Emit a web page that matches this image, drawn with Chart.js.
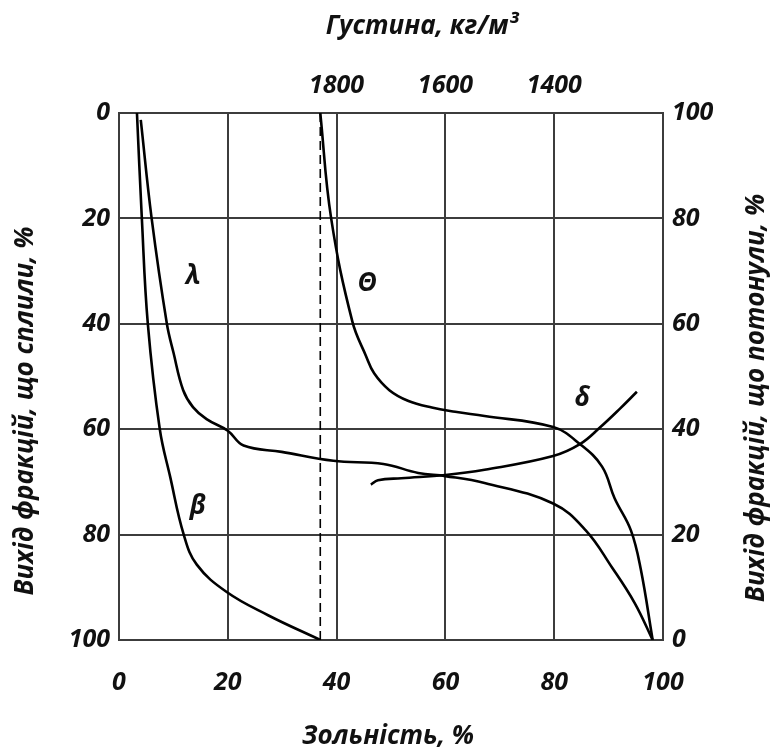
<!DOCTYPE html>
<html>
<head>
<meta charset="utf-8">
<script src="https://cdn.jsdelivr.net/npm/chart.js@4.4.0/dist/chart.umd.min.js"></script>
<style>
  html, body { margin: 0; padding: 0; background: #fff; }
</style>
</head>
<body>
<canvas id="js-chart-washability" width="772" height="749"></canvas>
<script>
// Tick labels
const ashTicks = [0, 20, 40, 60, 80, 100];
const floatTicks = [0, 20, 40, 60, 80, 100];
const sinkTicks = [0, 20, 40, 60, 80, 100];
const densityTicks = [1800, 1600, 1400];

// λ - elementary curve
const lambdaAsh = [4.0, 6.0, 8.8, 10.0, 11.8, 13.6, 16.1, 20.0, 22.9, 29.9, 39.4, 48.6, 55.0, 60.0, 67.2, 79.8, 85.8, 90.6, 94.8, 98.1];
const lambdaYield = [1.3, 20, 40, 45.4, 52.6, 55.8, 58.1, 60.3, 63.1, 64.3, 66.0, 66.6, 68.3, 68.9, 70.2, 74.1, 79.2, 86.2, 93.0, 100];

// β - floats curve
const betaAsh = [3.3, 4.2, 5.3, 7.5, 9.4, 11.9, 14.3, 19.8, 27.4, 37.0];
const betaYield = [0, 20, 40, 60, 69.0, 80, 85.7, 90.9, 95.3, 100];

// Θ - sinks curve
const thetaAsh = [37.0, 39.0, 42.9, 45.4, 46.9, 49.7, 53.1, 57.5, 61.8, 67.2, 79.8, 84.7, 88.8, 91.1, 94.1, 95.9, 98.1];
const thetaYield = [0, 20, 39.6, 46.1, 49.4, 52.6, 54.6, 55.9, 56.7, 57.5, 59.6, 62.8, 67.1, 73.1, 79.2, 86.5, 100];

// δ - density curve (density, kg/m3)
const deltaDensity = [1737, 1724, 1681, 1600, 1528, 1402, 1352, 1315, 1279, 1248];
const deltaYield = [70.5, 69.7, 69.3, 68.7, 67.7, 65.1, 62.8, 59.6, 56.1, 52.9];

// dashed line - ash of the whole coal
const dashAsh = [37.0, 37.0];
const dashYield = [0, 100];

// curve labels
const curveNames = ['λ', 'β', 'Θ', 'δ'];
const curveNameAsh = [13.6, 14.5, 45.6, 85.2];
const curveNameYield = [31.0, 74.7, 32.3, 54.2];

const zip = (xs, ys) => xs.map((x, i) => ({x: x, y: ys[i]}));

const family = "'Open Sans', 'Noto Sans', sans-serif";
const tickFont = {family: family, size: 25, style: 'italic', weight: 'bold'};
const titleCss = "italic bold 26px " + family;
const ink = '#111';
const gridColor = '#3c3c3c';

const curveStyle = {
  borderColor: '#000',
  borderWidth: 2.6,
  pointRadius: 0,
  fill: false,
  tension: 0.4
};

// Axis titles and curve names
const chartTexts = {
  id: 'chartTexts',
  afterDraw(chart) {
    const ctx = chart.ctx;
    const a = chart.chartArea;
    const sx = chart.scales.x, sy = chart.scales.y;
    ctx.save();
    ctx.font = titleCss;
    ctx.fillStyle = ink;
    ctx.textAlign = 'center';
    ctx.textBaseline = 'middle';

    ctx.fillText('Густина, кг/м³', a.left + 303, 27);
    ctx.fillText('Зольність, %', a.left + 269, 737);

    ctx.save();
    ctx.translate(26, 411);
    ctx.rotate(-Math.PI / 2);
    ctx.fillText('Вихід фракцій, що сплили, %', 0, 0);
    ctx.restore();

    ctx.save();
    ctx.translate(757, 398);
    ctx.rotate(-Math.PI / 2);
    ctx.fillText('Вихід фракцій, що потонули, %', 0, 0);
    ctx.restore();

    curveNames.forEach((name, i) => {
      ctx.fillText(name, sx.getPixelForValue(curveNameAsh[i]), sy.getPixelForValue(curveNameYield[i]));
    });
    ctx.restore();
  }
};

let chartCon = document.getElementById('js-chart-washability');

new Chart(chartCon, {
  type: 'line',
  data: {
    datasets: [
      Object.assign({label: 'λ', data: zip(lambdaAsh, lambdaYield)}, curveStyle),
      Object.assign({label: 'β', data: zip(betaAsh, betaYield)}, curveStyle),
      Object.assign({label: 'Θ', data: zip(thetaAsh, thetaYield)}, curveStyle),
      Object.assign({label: 'δ', data: zip(deltaDensity, deltaYield), xAxisID: 'x2'}, curveStyle),
      {
        label: 'dash',
        data: zip(dashAsh, dashYield),
        borderColor: '#000',
        borderWidth: 1.6,
        borderDash: [9, 5],
        pointRadius: 0,
        tension: 0
      }
    ]
  },
  options: {
    responsive: false,
    animation: false,
    layout: {padding: 0},
    plugins: {legend: {display: false}, tooltip: {enabled: false}},
    scales: {
      x: {
        type: 'linear',
        position: 'bottom',
        min: 0,
        max: 100,
        afterBuildTicks: s => { s.ticks = ashTicks.map(v => ({value: v})); },
        afterFit: s => { s.height = 109; },
        ticks: {font: tickFont, color: ink, padding: 28, maxRotation: 0, autoSkip: false},
        grid: {color: gridColor, lineWidth: 2, drawTicks: false},
        border: {color: gridColor, width: 2}
      },
      x2: {
        type: 'linear',
        position: 'top',
        min: 1200,
        max: 2200,
        reverse: true,
        afterBuildTicks: s => { s.ticks = densityTicks.map(v => ({value: v})); },
        afterFit: s => { s.height = 113; },
        ticks: {font: tickFont, color: ink, padding: 12, maxRotation: 0, autoSkip: false, callback: v => String(v)},
        grid: {display: false, drawTicks: false},
        border: {color: gridColor, width: 2}
      },
      y: {
        type: 'linear',
        position: 'left',
        min: 0,
        max: 100,
        reverse: true,
        afterBuildTicks: s => { s.ticks = floatTicks.map(v => ({value: v})); },
        afterFit: s => { s.width = 119; },
        ticks: {font: tickFont, color: ink, padding: 9, autoSkip: false},
        grid: {color: gridColor, lineWidth: 2, drawTicks: false},
        border: {color: gridColor, width: 2}
      },
      y2: {
        type: 'linear',
        position: 'right',
        min: 0,
        max: 100,
        afterBuildTicks: s => { s.ticks = sinkTicks.map(v => ({value: v})); },
        afterFit: s => { s.width = 109; },
        ticks: {font: tickFont, color: ink, padding: 9, autoSkip: false},
        grid: {display: false, drawTicks: false},
        border: {color: gridColor, width: 2}
      }
    }
  },
  plugins: [chartTexts]
});
</script>
</body>
</html>
